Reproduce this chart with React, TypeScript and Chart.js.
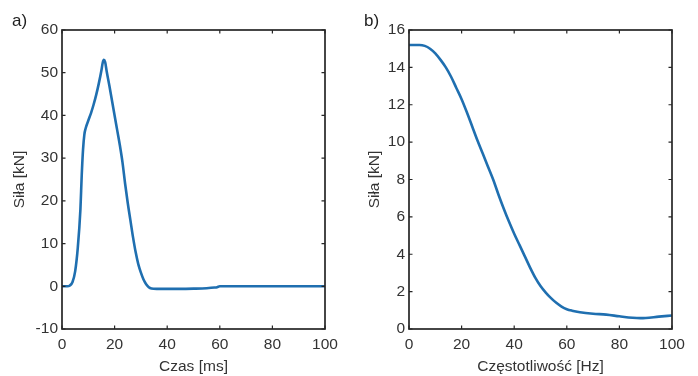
import React, { useEffect, useRef } from "react";
import { Chart, registerables } from "chart.js";

Chart.register(...registerables);

// ---- Data: panel a) force vs time ----
const timeMs = [0, 2, 3, 4, 5, 6, 7, 7.5, 8, 8.5, 9, 10, 11, 12, 13, 14, 15, 15.5, 15.9, 16.4, 17, 18, 19, 20, 21, 22, 23, 24, 25, 26, 27, 28, 29, 30, 31, 32, 33, 34, 36, 40, 45, 50, 55, 58, 59, 60, 70, 80, 90, 100];
const forceTime = [0, 0, 0.2, 1.0, 3.5, 9, 18, 26, 32, 35.5, 37, 38.8, 40.5, 42.5, 44.8, 47.5, 50.6, 52.4, 53.0, 52.5, 50.3, 47, 43.5, 40, 36.5, 33, 29, 24, 19.5, 15.5, 11.5, 8, 5.2, 3.2, 1.6, 0.5, -0.2, -0.5, -0.6, -0.6, -0.6, -0.55, -0.45, -0.3, -0.2, 0, 0, 0, 0, 0];

// ---- Data: panel b) force spectrum vs frequency ----
const freqHz = [0, 2, 4, 6, 8, 10, 12, 14, 16, 18, 20, 22, 24, 26, 28, 30, 32, 34, 36, 38, 40, 42, 44, 46, 48, 50, 52, 54, 56, 58, 60, 62, 65, 70, 75, 80, 85, 88, 90, 95, 100];
const forceFreq = [15.2, 15.2, 15.2, 15.15, 15.0, 14.75, 14.4, 14.0, 13.5, 12.9, 12.3, 11.6, 10.85, 10.1, 9.4, 8.7, 8.0, 7.2, 6.45, 5.75, 5.1, 4.5, 3.9, 3.3, 2.75, 2.3, 1.95, 1.65, 1.4, 1.2, 1.06, 0.98, 0.9, 0.82, 0.77, 0.68, 0.6, 0.58, 0.59, 0.66, 0.72];

const xTicksA = [0, 20, 40, 60, 80, 100];
const yTicksA = [-10, 0, 10, 20, 30, 40, 50, 60];
const xTicksB = [0, 20, 40, 60, 80, 100];
const yTicksB = [0, 2, 4, 6, 8, 10, 12, 14, 16];

const FONT = "'Liberation Sans', Arial, sans-serif";
const TEXT = "#333333";
const LINE = "#1f6fb0";

const boxPlugin = {
  id: "matlabBox",
  afterDatasetsDraw(chart: any) {
    const { ctx, chartArea } = chart;
    const { left, right, top, bottom } = chartArea;
    const x = chart.scales.x;
    const y = chart.scales.y;
    ctx.save();
    ctx.strokeStyle = "#262626";
    ctx.lineWidth = 1.2;
    ctx.beginPath();
    x.ticks.forEach((t: any) => {
      const px = x.getPixelForValue(t.value);
      ctx.moveTo(px, bottom);
      ctx.lineTo(px, bottom - 3.5);
      ctx.moveTo(px, top);
      ctx.lineTo(px, top + 3.5);
    });
    y.ticks.forEach((t: any) => {
      const py = y.getPixelForValue(t.value);
      ctx.moveTo(left, py);
      ctx.lineTo(left + 3.5, py);
      ctx.moveTo(right, py);
      ctx.lineTo(right - 3.5, py);
    });
    ctx.stroke();
    ctx.lineWidth = 1.7;
    ctx.strokeRect(left, top, right - left, bottom - top);
    ctx.restore();
  },
};

type PanelProps = {
  xs: number[];
  ys: number[];
  xTicks: number[];
  yTicks: number[];
  xTitle: string;
  yTitlePad: number;
  width: number;
  rightPad: number;
};

function Panel({ xs, ys, xTicks, yTicks, xTitle, yTitlePad, width, rightPad }: PanelProps) {
  const ref = useRef<HTMLCanvasElement | null>(null);
  useEffect(() => {
    if (!ref.current) return;
    const data = xs.map((x, i) => ({ x, y: ys[i] }));
    const font = { family: FONT, size: 15.5 };
    const chart = new Chart(ref.current, {
      type: "line",
      data: {
        datasets: [
          {
            data,
            borderColor: LINE,
            borderWidth: 2.6,
            pointRadius: 0,
            fill: false,
            cubicInterpolationMode: "monotone",
          },
        ],
      },
      plugins: [boxPlugin],
      options: {
        responsive: false,
        animation: false,
        events: [],
        layout: { padding: { top: 30, right: rightPad, bottom: 0, left: 0 } },
        plugins: { legend: { display: false }, tooltip: { enabled: false } },
        scales: {
          x: {
            type: "linear",
            min: xTicks[0],
            max: xTicks[xTicks.length - 1],
            afterBuildTicks: (s: any) => {
              s.ticks = xTicks.map((v) => ({ value: v }));
            },
            ticks: { color: TEXT, font, padding: 6, maxRotation: 0 },
            grid: { display: false, drawTicks: false },
            border: { display: false },
            title: { display: true, text: xTitle, color: TEXT, font, padding: { top: 0, bottom: 0 } },
            afterFit: (s: any) => {
              s.height = 47;
            },
          },
          y: {
            type: "linear",
            min: yTicks[0],
            max: yTicks[yTicks.length - 1],
            afterBuildTicks: (s: any) => {
              s.ticks = yTicks.map((v) => ({ value: v }));
            },
            ticks: { color: TEXT, font, padding: 4 },
            grid: { display: false, drawTicks: false },
            border: { display: false },
            title: { display: true, text: "Siła [kN]", color: TEXT, font, padding: { top: yTitlePad, bottom: 0 } },
            afterFit: (s: any) => {
              s.width = 62;
            },
          },
        },
      },
    } as any);
    return () => chart.destroy();
  }, []);
  return <canvas ref={ref} width={width} height={376} style={{ display: "block", width, height: 376 }} />;
}

export default function App() {
  const labelStyle: React.CSSProperties = {
    position: "absolute",
    top: 12,
    fontFamily: FONT,
    fontSize: 17,
    lineHeight: "17px",
    color: "#1e1e1e",
  };
  return (
    <div style={{ position: "fixed", left: 0, top: 0, width: 698, height: 376, background: "#fff" }}>
      <div style={{ position: "absolute", left: 0, top: 0 }}>
        <Panel xs={timeMs} ys={forceTime} xTicks={xTicksA} yTicks={yTicksA} xTitle="Czas [ms]" yTitlePad={10.7} width={347} rightPad={22} />
      </div>
      <div style={{ position: "absolute", left: 347, top: 0 }}>
        <Panel xs={freqHz} ys={forceFreq} xTicks={xTicksB} yTicks={yTicksB} xTitle="Częstotliwość [Hz]" yTitlePad={18.7} width={351} rightPad={26} />
      </div>
      <div style={{ ...labelStyle, left: 12 }}>a)</div>
      <div style={{ ...labelStyle, left: 364 }}>b)</div>
    </div>
  );
}
